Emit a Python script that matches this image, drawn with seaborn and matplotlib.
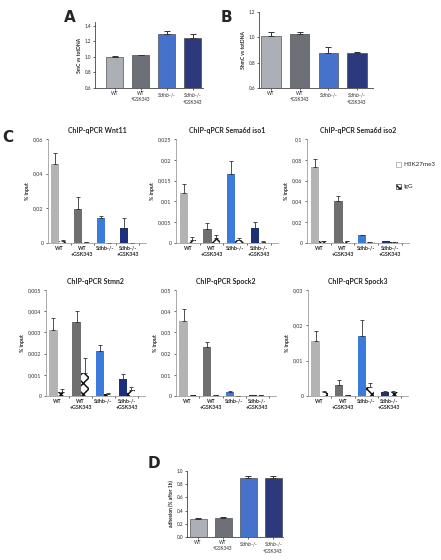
import matplotlib
matplotlib.use("Agg")
import matplotlib.pyplot as plt
from matplotlib.patches import Patch
from matplotlib.ticker import MultipleLocator, FuncFormatter
import numpy as np
import pandas as pd
import seaborn as sns

# ---------------- data ----------------
groups = ["WT", "WT\n+GSK343", "Sdhb-/-", "Sdhb-/-\n+GSK343"]

# panel A  5mC vs totDNA
a_vals = [1.00, 1.02, 1.29, 1.25]
a_err = [0.01, 0.01, 0.05, 0.05]
# panel B  5hmC vs totDNA
b_vals = [1.01, 1.03, 0.875, 0.875]
b_err = [0.03, 0.015, 0.045, 0.007]
# panel D  adhesion
d_vals = [0.28, 0.29, 0.90, 0.90]
d_err = [0.015, 0.02, 0.02, 0.02]

# panel C  ChIP-qPCR (% input), H3K27me3 and IgG
wnt11_h3 = [0.0455, 0.0195, 0.0145, 0.0088]
wnt11_h3_err = [0.0065, 0.007, 0.001, 0.0058]
wnt11_igg = [0.001, 0.0005, 0.0002, 0.0001]
wnt11_igg_err = [0.0008, 0.0002, 0.0, 0.0]

sema1_h3 = [0.012, 0.0034, 0.0165, 0.0037]
sema1_h3_err = [0.0022, 0.0014, 0.0033, 0.0013]
sema1_igg = [0.0008, 0.0012, 0.0008, 0.0003]
sema1_igg_err = [0.0006, 0.0008, 0.0005, 0.0003]

sema2_h3 = [0.073, 0.040, 0.0075, 0.0015]
sema2_h3_err = [0.008, 0.005, 0.0005, 0.0003]
sema2_igg = [0.002, 0.0015, 0.0005, 0.001]
sema2_igg_err = [0.0003, 0.0003, 0.0, 0.0]

stmn2_h3 = [0.0031, 0.0035, 0.0021, 0.0008]
stmn2_h3_err = [0.0006, 0.0005, 0.0003, 0.00025]
stmn2_igg = [0.0002, 0.00108, 0.0001, 0.00027]
stmn2_igg_err = [0.00015, 0.0007, 0.00005, 0.00016]

spock2_h3 = [0.0355, 0.023, 0.002, 0.0006]
spock2_h3_err = [0.0055, 0.0025, 0.0002, 0.0001]
spock2_igg = [0.0003, 0.0005, 0.0002, 0.0003]
spock2_igg_err = [0.0, 0.0, 0.0, 0.0]

spock3_h3 = [0.0156, 0.0032, 0.0169, 0.001]
spock3_h3_err = [0.0028, 0.0012, 0.0045, 0.0003]
spock3_igg = [0.001, 0.0002, 0.0025, 0.001]
spock3_igg_err = [0.0003, 0.0, 0.0013, 0.0003]

prism_colors = ["#acaeb7", "#6c6f77", "#2f6be3", "#1f318a"]
excel_colors = ["#b3b3b3", "#6f6f6f", "#3b7bdb", "#1e2f7c"]
####################################################

sns.set_style("ticks")
plt.rcParams["font.family"] = ["Lato", "DejaVu Sans"]
plt.rcParams["hatch.linewidth"] = 1.1

W, H = 441, 560
fig = plt.figure(figsize=(W / 100, H / 100), dpi=100)


def add_ax(x0, x1, y0, y1):
    # pixel box -> figure fraction
    return fig.add_axes([x0 / W, 1 - y1 / H, (x1 - x0) / W, (y1 - y0) / H])


def up_errors(ax, patches, errs, color="#333333", cap=1.5, lw=0.6):
    xs = [p.get_x() + p.get_width() / 2 for p in patches]
    ys = [p.get_height() for p in patches]
    ax.errorbar(xs, ys, yerr=[np.zeros(len(errs)), errs], fmt="none",
                ecolor=color, elinewidth=lw, capsize=cap, capthick=lw)


def prism_panel(box, vals, errs, ylim, step, ylabel, xlim):
    ax = add_ax(*box)
    df = pd.DataFrame({"group": groups, "value": vals})
    sns.barplot(data=df, x="group", y="value", hue="group", palette=prism_colors,
                legend=False, width=0.68, ax=ax, edgecolor="#333333", linewidth=0.4)
    up_errors(ax, ax.patches, errs, color="#333333", cap=2, lw=0.7)
    ax.set_ylim(*ylim)
    ax.set_xlim(*xlim)
    ax.yaxis.set_major_locator(MultipleLocator(step))
    ax.yaxis.set_major_formatter(FuncFormatter(lambda v, p: f"{v:.1f}"))
    ax.set_xlabel("")
    ax.set_ylabel(ylabel, fontsize=3.6, fontweight="bold", labelpad=2)
    ax.tick_params(axis="both", labelsize=3.3, length=1.5, width=0.5, pad=1)
    labels = ["WT", "WT\n+GSK343", "$\\mathit{Sdhb}$-/-", "$\\mathit{Sdhb}$-/-\n+GSK343"]
    ax.set_xticks(range(4))
    ax.set_xticklabels(labels)
    for s in ["left", "bottom"]:
        ax.spines[s].set_linewidth(0.6)
        ax.spines[s].set_color("#444444")
    sns.despine(ax=ax)
    return ax


def chip_panel(box, title, h3, h3_err, igg, igg_err, ymax, step):
    ax = add_ax(*box)
    df = pd.DataFrame({
        "group": groups * 2,
        "ab": ["H3K27me3"] * 4 + ["IgG"] * 4,
        "value": h3 + igg,
    })
    sns.barplot(data=df, x="group", y="value", hue="ab", width=0.7,
                palette=["white", "white"], legend=False, ax=ax, linewidth=0)
    h3_bars = list(ax.containers[0])
    igg_bars = list(ax.containers[1])
    for p, c in zip(h3_bars, excel_colors):
        p.set_facecolor(c)
    for p in igg_bars:
        p.set_facecolor("white")
        p.set_edgecolor("#151515")
        p.set_hatch("xxx")
        p.set_linewidth(0)
    up_errors(ax, h3_bars, h3_err, color="#333333", cap=1.6, lw=0.6)
    up_errors(ax, igg_bars, igg_err, color="#333333", cap=1.6, lw=0.6)
    ax.set_ylim(0, ymax)
    ax.set_xlim(-0.5, 3.8)
    ax.yaxis.set_major_locator(MultipleLocator(step))
    ax.yaxis.set_major_formatter(
        FuncFormatter(lambda v, p: f"{round(v, 4):g}".replace(".", ",")))
    ax.set_xticks(range(4))
    labels = ["WT", "WT\n+GSK343", "Sdhb-/-", "Sdhb-/-\n+GSK343"]
    ax.set_xticklabels(labels, fontweight="bold")
    ax.set_xticks([0.5, 1.5, 2.5, 3.5], minor=True)
    ax.tick_params(axis="x", which="major", length=0, labelsize=3.8, pad=2)
    ax.tick_params(axis="x", which="minor", length=1.5, width=0.5)
    ax.tick_params(axis="y", labelsize=3.8, length=1.8, width=0.5, pad=1.5, colors="#333333")
    ax.set_xlabel("")
    ax.set_ylabel("% input", fontsize=3.8, fontweight="bold", labelpad=2)
    ax.set_title(title, fontsize=5, fontweight="bold", pad=4)
    for s in ["left", "bottom"]:
        ax.spines[s].set_linewidth(0.5)
        ax.spines[s].set_color("#8a8a8a")
    sns.despine(ax=ax)
    return ax


# panels A, B, D
prism_panel((95, 203, 22, 88), a_vals, a_err, (0.6, 1.45), 0.2, "5mC vs totDNA", (-0.75, 3.4))
prism_panel((259, 373, 12, 88), b_vals, b_err, (0.6, 1.2), 0.2, "5hmC vs totDNA", (-0.42, 3.56))
prism_panel((187, 283, 471, 537), d_vals, d_err, (0.0, 1.0), 0.2, "adhesion (% after 1h)", (-0.44, 3.4))

# panel C
chip_panel((48, 146, 139, 243), "ChIP-qPCR Wnt11", wnt11_h3, wnt11_h3_err, wnt11_igg, wnt11_igg_err, 0.06, 0.02)
chip_panel((176, 278, 139, 243), "ChIP-qPCR Sema6d iso1", sema1_h3, sema1_h3_err, sema1_igg, sema1_igg_err, 0.025, 0.005)
chip_panel((307, 409, 139, 243), "ChIP-qPCR Sema6d iso2", sema2_h3, sema2_h3_err, sema2_igg, sema2_igg_err, 0.1, 0.02)
chip_panel((46, 145, 290, 396), "ChIP-qPCR Stmn2", stmn2_h3, stmn2_h3_err, stmn2_igg, stmn2_igg_err, 0.005, 0.001)
chip_panel((176, 276, 290, 396), "ChIP-qPCR Spock2", spock2_h3, spock2_h3_err, spock2_igg, spock2_igg_err, 0.05, 0.01)
chip_panel((308, 408, 290, 396), "ChIP-qPCR Spock3", spock3_h3, spock3_h3_err, spock3_igg, spock3_igg_err, 0.03, 0.01)

handles = [Patch(facecolor="white", edgecolor="#888888", linewidth=0.4, label="H3K27me3"),
           Patch(facecolor="white", edgecolor="#151515", hatch="xxx", linewidth=0.4, label="IgG")]
fig.legend(handles=handles, loc="upper left", bbox_to_anchor=(390 / W, 1 - 156 / H),
           frameon=False, fontsize=4.5, labelspacing=2.6, handlelength=0.9,
           handleheight=0.9, handletextpad=0.3)

# panel letters
for letter, x, y in [("A", 70, 17), ("B", 226, 17), ("C", 8, 138), ("D", 154, 463)]:
    fig.text(x / W, 1 - y / H, letter, fontsize=11, fontweight="bold",
             ha="center", va="center", family="DejaVu Sans")

plt.savefig("out.png", dpi=100)
